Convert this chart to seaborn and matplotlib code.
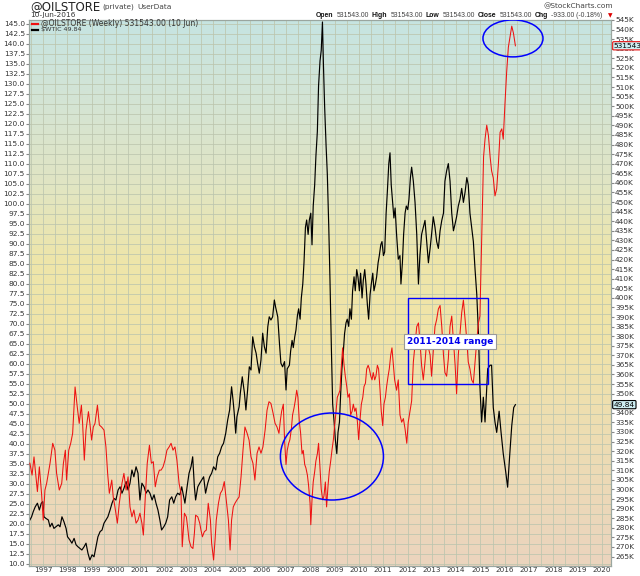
import numpy as np
import pandas as pd
import seaborn as sns
import matplotlib.pyplot as plt
from matplotlib.colors import LinearSegmentedColormap
from matplotlib.patches import Ellipse, Rectangle
from matplotlib.lines import Line2D

# $WTIC weekly close (left scale)
wti_t = [1996.46, 1996.53, 1996.60, 1996.68, 1996.77, 1996.85, 1996.93, 1996.99, 1997.04, 1997.12,
         1997.22, 1997.29, 1997.37, 1997.45, 1997.53, 1997.63, 1997.70, 1997.78, 1997.86, 1997.95,
         1998.01, 1998.11, 1998.19, 1998.28, 1998.36, 1998.44, 1998.52, 1998.60, 1998.69, 1998.77,
         1998.85, 1998.93, 1999.02, 1999.10, 1999.18, 1999.26, 1999.35, 1999.43, 1999.51, 1999.59,
         1999.67, 1999.76, 1999.84, 1999.92, 2000.00, 2000.09, 2000.17, 2000.25, 2000.33, 2000.42,
         2000.50, 2000.58, 2000.66, 2000.74, 2000.83, 2000.91, 2000.99, 2001.07, 2001.16, 2001.24,
         2001.32, 2001.40, 2001.49, 2001.57, 2001.65, 2001.73, 2001.81, 2001.88, 2001.97, 2002.05,
         2002.13, 2002.21, 2002.30, 2002.38, 2002.46, 2002.54, 2002.63, 2002.71, 2002.79, 2002.84,
         2002.93, 2003.01, 2003.09, 2003.16, 2003.23, 2003.28, 2003.37, 2003.45, 2003.53, 2003.61,
         2003.69, 2003.78, 2003.86, 2003.94, 2004.02, 2004.11, 2004.19, 2004.27, 2004.35, 2004.43,
         2004.52, 2004.60, 2004.68, 2004.76, 2004.82, 2004.87, 2004.93, 2004.98, 2005.07, 2005.12,
         2005.20, 2005.29, 2005.35, 2005.42, 2005.49, 2005.56, 2005.63, 2005.70, 2005.77, 2005.83,
         2005.90, 2005.97, 2006.04, 2006.11, 2006.18, 2006.25, 2006.31, 2006.38, 2006.45, 2006.52,
         2006.57, 2006.66, 2006.73, 2006.79, 2006.86, 2006.94, 2007.00, 2007.05, 2007.14, 2007.19,
         2007.25, 2007.30, 2007.36, 2007.41, 2007.47, 2007.52, 2007.58, 2007.63, 2007.69, 2007.74,
         2007.80, 2007.85, 2007.91, 2007.96, 2008.02, 2008.07, 2008.12, 2008.18, 2008.23, 2008.29,
         2008.34, 2008.40, 2008.45, 2008.50, 2008.54, 2008.59, 2008.65, 2008.70, 2008.76, 2008.81,
         2008.87, 2008.92, 2008.98, 2009.03, 2009.09, 2009.14, 2009.20, 2009.25, 2009.30, 2009.36,
         2009.41, 2009.47, 2009.52, 2009.58, 2009.63, 2009.69, 2009.74, 2009.80, 2009.85, 2009.91,
         2009.96, 2010.02, 2010.07, 2010.13, 2010.18, 2010.24, 2010.29, 2010.35, 2010.40, 2010.46,
         2010.51, 2010.57, 2010.62, 2010.68, 2010.73, 2010.79, 2010.84, 2010.90, 2010.95, 2011.01,
         2011.06, 2011.12, 2011.17, 2011.23, 2011.28, 2011.33, 2011.39, 2011.44, 2011.49, 2011.55,
         2011.62, 2011.69, 2011.73, 2011.79, 2011.84, 2011.90, 2011.95, 2012.01, 2012.06, 2012.12,
         2012.17, 2012.24, 2012.31, 2012.38, 2012.45, 2012.51, 2012.58, 2012.65, 2012.72, 2012.79,
         2012.86, 2012.93, 2012.99, 2013.06, 2013.13, 2013.20, 2013.27, 2013.34, 2013.41, 2013.48,
         2013.54, 2013.61, 2013.68, 2013.75, 2013.82, 2013.89, 2013.96, 2014.02, 2014.09, 2014.16,
         2014.23, 2014.30, 2014.37, 2014.44, 2014.50, 2014.57, 2014.64, 2014.71, 2014.78, 2014.85,
         2014.92, 2014.98, 2015.05, 2015.12, 2015.19, 2015.30, 2015.40, 2015.46, 2015.53, 2015.60,
         2015.67, 2015.77, 2015.85, 2015.94, 2016.04, 2016.12, 2016.20, 2016.29, 2016.37, 2016.44]
wti_v = [21.0, 21.8, 23.1, 24.3, 25.2, 23.5, 25.2, 25.6, 21.8, 21.4,
         21.0, 19.3, 20.2, 18.9, 19.3, 19.8, 19.3, 21.8, 20.6, 18.9,
         16.8, 16.0, 15.2, 16.4, 14.8, 14.3, 13.9, 13.5, 14.3, 15.2,
         12.7, 11.0, 12.3, 11.8, 14.3, 16.8, 18.1, 18.5, 20.2, 21.0,
         21.8, 23.5, 25.2, 26.4, 26.0, 28.5, 29.3, 27.7, 28.9, 30.6,
         28.5, 30.2, 33.5, 31.8, 34.3, 32.7, 26.0, 30.2, 29.3, 27.7,
         28.5, 27.7, 26.0, 27.3, 25.2, 23.5, 21.0, 18.5, 19.3, 20.2,
         21.8, 26.0, 26.8, 25.2, 26.8, 27.7, 27.3, 29.3, 26.8, 25.2,
         29.3, 32.7, 34.3, 36.8, 29.3, 26.0, 29.3, 30.2, 31.0, 31.8,
         27.7, 30.2, 31.8, 32.7, 34.3, 33.5, 36.8, 37.7, 39.3, 40.2,
         42.7, 46.0, 48.5, 54.3, 51.0, 47.7, 42.7, 46.8, 49.3, 52.7,
         56.8, 52.7, 48.5, 53.5, 59.3, 58.5, 66.8, 64.3, 62.7, 60.2,
         57.7, 61.0, 67.7, 64.3, 62.7, 69.3, 71.8, 71.0, 71.8, 76.0,
         74.3, 71.8, 65.2, 60.2, 59.3, 60.6, 53.5, 58.8, 59.7, 63.2,
         65.9, 64.1, 66.8, 68.5, 72.1, 73.8, 71.2, 76.5, 80.0, 85.3,
         94.2, 96.0, 92.4, 96.0, 97.7, 89.8, 99.5, 104.8, 111.9, 118.1,
         129.6, 135.8, 138.4, 145.5, 134.9, 124.3, 114.5, 107.5, 94.2, 80.9,
         63.2, 50.0, 45.5, 41.1, 37.6, 42.9, 45.5, 52.6, 58.8, 63.2,
         67.6, 70.3, 71.2, 69.4, 73.8, 71.2, 78.3, 81.8, 78.3, 83.6,
         81.8, 78.3, 82.7, 76.5, 80.9, 83.6, 80.0, 74.7, 71.2, 77.4,
         80.0, 82.7, 78.3, 80.0, 81.8, 85.3, 87.1, 89.8, 90.6, 87.1,
         88.0, 97.7, 103.0, 110.1, 112.8, 104.8, 100.4, 96.5, 99.0, 92.4,
         86.2, 87.1, 80.0, 85.3, 92.4, 97.7, 99.5, 98.6, 101.2, 106.6,
         109.2, 105.7, 100.4, 92.4, 80.0, 87.1, 92.4, 94.2, 95.9, 90.6,
         85.3, 88.9, 92.4, 96.8, 94.2, 90.6, 88.9, 93.3, 95.9, 97.7,
         105.7, 108.3, 110.1, 105.7, 97.7, 93.3, 95.1, 96.8, 99.5, 101.2,
         103.9, 100.4, 103.0, 106.6, 104.8, 97.7, 94.2, 90.6, 83.6, 77.4,
         67.6, 54.4, 45.5, 51.7, 45.5, 58.8, 59.7, 59.7, 49.1, 45.5,
         42.9, 48.2, 42.9, 37.6, 33.1, 29.2, 36.7, 44.6, 49.1, 49.84]

# @OILSTORE weekly (right scale, thousands)
oil_t = [1996.46, 1996.55, 1996.63, 1996.77, 1996.85, 1996.94, 1997.01, 1997.08, 1997.15, 1997.29,
         1997.40, 1997.49, 1997.56, 1997.67, 1997.77, 1997.84, 1997.92, 1997.97, 1998.06, 1998.14,
         1998.22, 1998.32, 1998.41, 1998.49, 1998.58, 1998.63, 1998.70, 1998.77, 1998.87, 1998.93,
         1999.00, 1999.07, 1999.14, 1999.24, 1999.32, 1999.41, 1999.51, 1999.59, 1999.66, 1999.73,
         1999.83, 1999.89, 1999.96, 2000.06, 2000.14, 2000.25, 2000.33, 2000.42, 2000.50, 2000.58,
         2000.66, 2000.74, 2000.83, 2000.91, 2000.99, 2001.07, 2001.13, 2001.21, 2001.29, 2001.38,
         2001.46, 2001.54, 2001.62, 2001.70, 2001.79, 2001.86, 2001.94, 2002.02, 2002.10, 2002.19,
         2002.27, 2002.35, 2002.43, 2002.51, 2002.60, 2002.68, 2002.73, 2002.82, 2002.90, 2002.95,
         2003.01, 2003.09, 2003.17, 2003.23, 2003.28, 2003.37, 2003.45, 2003.50, 2003.56, 2003.64,
         2003.72, 2003.80, 2003.89, 2003.94, 2004.02, 2004.08, 2004.13, 2004.22, 2004.30, 2004.38,
         2004.46, 2004.54, 2004.63, 2004.70, 2004.76, 2004.83, 2004.90, 2004.98, 2005.07, 2005.15,
         2005.23, 2005.31, 2005.40, 2005.48, 2005.56, 2005.64, 2005.72, 2005.81, 2005.89, 2005.97,
         2006.05, 2006.14, 2006.22, 2006.30, 2006.38, 2006.47, 2006.55, 2006.63, 2006.71, 2006.77,
         2006.82, 2006.89, 2006.94, 2007.00, 2007.05, 2007.11, 2007.16, 2007.22, 2007.27, 2007.33,
         2007.38, 2007.44, 2007.49, 2007.55, 2007.60, 2007.66, 2007.71, 2007.77, 2007.82, 2007.88,
         2007.93, 2007.99, 2008.02, 2008.07, 2008.12, 2008.18, 2008.23, 2008.29, 2008.34, 2008.40,
         2008.45, 2008.51, 2008.56, 2008.62, 2008.67, 2008.73, 2008.78, 2008.84, 2008.89, 2008.95,
         2009.00, 2009.06, 2009.11, 2009.17, 2009.22, 2009.28, 2009.33, 2009.39, 2009.44, 2009.50,
         2009.55, 2009.61, 2009.66, 2009.72, 2009.77, 2009.83, 2009.88, 2009.94, 2009.99, 2010.05,
         2010.10, 2010.16, 2010.21, 2010.27, 2010.32, 2010.38, 2010.43, 2010.49, 2010.54, 2010.59,
         2010.65, 2010.70, 2010.76, 2010.81, 2010.87, 2010.92, 2010.98, 2011.03, 2011.09, 2011.14,
         2011.20, 2011.25, 2011.31, 2011.36, 2011.42, 2011.47, 2011.55, 2011.62, 2011.69, 2011.76,
         2011.83, 2011.90, 2011.97, 2012.03, 2012.10, 2012.17, 2012.24, 2012.31, 2012.38, 2012.45,
         2012.51, 2012.58, 2012.65, 2012.72, 2012.79, 2012.86, 2012.93, 2012.99, 2013.06, 2013.13,
         2013.20, 2013.27, 2013.34, 2013.41, 2013.48, 2013.54, 2013.61, 2013.68, 2013.75, 2013.82,
         2013.89, 2013.96, 2014.02, 2014.09, 2014.16, 2014.23, 2014.30, 2014.37, 2014.44, 2014.50,
         2014.57, 2014.64, 2014.71, 2014.78, 2014.85, 2014.92, 2014.98, 2015.03, 2015.08, 2015.13,
         2015.19, 2015.26, 2015.33, 2015.40, 2015.46, 2015.53, 2015.60, 2015.67, 2015.74, 2015.81,
         2015.88, 2015.94, 2016.01, 2016.08, 2016.15, 2016.22, 2016.29, 2016.36, 2016.44]
oil_k = [313.7, 307.5, 317.0, 298.9, 311.8, 298.0, 284.0, 299.7, 303.2, 313.7,
         324.1, 320.5, 308.4, 299.7, 303.2, 313.7, 320.5, 304.9, 320.5, 324.1,
         329.3, 353.5, 343.1, 334.5, 344.0, 334.5, 315.3, 331.0, 340.6, 334.5,
         325.8, 332.6, 334.5, 344.0, 333.6, 332.6, 331.0, 322.2, 308.4, 298.0,
         304.9, 296.1, 290.9, 282.4, 292.8, 303.2, 308.4, 299.7, 306.6, 290.9,
         285.7, 289.3, 282.4, 284.0, 287.6, 282.4, 276.2, 296.1, 313.7, 323.1,
         313.7, 314.5, 301.4, 306.6, 310.1, 310.1, 311.8, 315.3, 320.5, 322.2,
         324.1, 320.5, 322.2, 315.3, 303.2, 298.0, 270.1, 287.6, 285.7, 280.5,
         273.6, 270.1, 269.2, 277.2, 286.6, 285.7, 282.4, 278.8, 275.3, 278.0,
         278.8, 292.8, 284.0, 271.9, 263.2, 273.6, 284.0, 292.8, 298.0, 299.7,
         304.1, 294.5, 284.0, 268.4, 284.0, 290.9, 292.8, 294.5, 296.1, 306.6,
         320.5, 332.6, 329.3, 325.8, 317.0, 313.7, 304.9, 318.9, 322.2, 318.9,
         322.2, 331.0, 341.4, 345.8, 344.9, 339.7, 334.5, 332.6, 329.3, 336.2,
         340.8, 344.5, 326.0, 313.0, 320.4, 324.1, 326.0, 331.5, 338.9, 342.5,
         346.2, 351.8, 348.1, 335.1, 329.6, 318.6, 320.4, 313.0, 311.2, 307.5,
         302.0, 292.8, 281.6, 294.6, 303.9, 309.3, 314.9, 318.6, 324.1, 311.2,
         300.1, 294.6, 296.5, 303.9, 290.9, 302.0, 309.3, 314.9, 320.4, 326.0,
         333.3, 340.8, 348.1, 349.9, 351.8, 364.8, 373.9, 364.8, 359.1, 353.7,
         348.1, 349.9, 338.9, 340.8, 344.5, 340.8, 342.5, 335.1, 326.0, 337.0,
         344.5, 348.1, 353.7, 355.5, 362.9, 364.8, 362.9, 359.1, 357.2, 361.0,
         357.2, 359.1, 364.8, 362.9, 351.8, 340.8, 333.3, 344.5, 348.1, 353.7,
         359.1, 362.9, 370.2, 373.9, 364.8, 357.2, 351.8, 357.2, 338.9, 335.1,
         337.0, 331.5, 324.1, 335.1, 340.8, 346.2, 366.5, 375.8, 385.0, 386.9,
         377.7, 364.8, 357.2, 366.5, 377.7, 373.9, 370.2, 359.1, 372.1, 385.0,
         388.7, 394.2, 396.0, 385.0, 370.2, 361.0, 359.1, 368.3, 385.0, 390.5,
         377.7, 364.8, 349.9, 370.2, 381.2, 392.3, 398.8, 388.7, 377.7, 366.5,
         362.9, 357.2, 355.5, 366.5, 377.7, 386.9, 390.5, 418.1, 445.9, 473.6,
         482.8, 490.1, 484.7, 473.6, 466.3, 462.6, 453.2, 456.9, 469.9, 486.4,
         488.2, 482.8, 501.2, 517.8, 530.8, 536.3, 541.8, 538.1, 531.543]

years = list(range(1997, 2021))
left_ticks = np.arange(10, 145.01, 2.5)
right_ticks = np.arange(265, 545.01, 5)
header_pieces = [('Open', True), ('531543.00', False), ('High', True), ('531543.00', False),
                 ('Low', True), ('531543.00', False), ('Close', True), ('531543.00', False),
                 ('Chg', True), ('-933.00 (-0.18%)', False)]

wti = pd.DataFrame({'t': wti_t, 'v': wti_v})
oil = pd.DataFrame({'t': oil_t, 'k': oil_k})

W, H = 640, 576
plt.rcParams['font.family'] = ['DejaVu Sans']
fig = plt.figure(figsize=(6.4, 5.76), dpi=100)
ax = fig.add_axes([29 / W, 10 / H, 582 / W, 546 / H])

# background gradient (bottom -> top)
bg = LinearSegmentedColormap.from_list('bg', [
    (0.0, '#ebd4be'), (0.21, '#eddcb4'), (0.43, '#f0e4a8'), (0.56, '#eee6aa'),
    (0.70, '#e1e5c3'), (0.85, '#d4e4d4'), (1.0, '#c6e4e2')])
ax.imshow(np.linspace(0, 1, 256).reshape(-1, 1), aspect='auto', cmap=bg,
          extent=[0, 1, 0, 1], transform=ax.transAxes, origin='lower', zorder=0)

sns.lineplot(data=wti, x='t', y='v', ax=ax, color='black', lw=0.85,
             estimator=None, sort=False, zorder=3)
ax.set_xlim(1996.424, 2020.374)
ax.set_ylim(9.5, 146)

ax2 = ax.twinx()
ax2.patch.set_visible(False)
sns.lineplot(data=oil, x='t', y='k', ax=ax2, color='#ee1111', lw=0.75,
             estimator=None, sort=False, zorder=3)
ax2.set_ylim(260.06, 544.74)
ax2.set_xlim(1996.424, 2020.374)

# grid
ax.set_xticks(years)
ax.set_xticks(np.arange(1996.5, 2020.4, 0.5), minor=True)
ax.set_yticks(left_ticks)
ax.grid(which='both', color='#bcc5ae', lw=0.55)
for l in ax.get_xgridlines() + ax.get_ygridlines():
    l.set_zorder(1)

ax.set_xticklabels([str(y) for y in years])
ax.set_yticklabels(['%.1f' % v for v in left_ticks])
ax2.set_yticks(right_ticks)
ax2.set_yticklabels(['%dK' % v for v in right_ticks])
ax.set_xlabel('')
ax.set_ylabel('')
ax2.set_ylabel('')

ax.tick_params(axis='y', labelsize=5.3, length=2, pad=1, color='#888888', labelcolor='#333333')
ax.tick_params(axis='x', which='both', labelsize=5.2, length=0, pad=1, labelcolor='#333333')
ax2.tick_params(axis='y', labelsize=5.3, length=2, pad=1, color='#888888', labelcolor='#333333')
for a in (ax, ax2):
    for s in a.spines.values():
        s.set_color('#9aa6a0')
        s.set_linewidth(0.8)

# annotations on the OILSTORE scale
ax2.add_patch(Ellipse((2016.34, 535.4), 2.47, 19.3, fill=False, ec='#0000ff', lw=1.1, zorder=5))
ax2.add_patch(Ellipse((2008.89, 317.2), 4.24, 45.4, fill=False, ec='#0000ff', lw=1.1, zorder=5))
ax2.add_patch(Rectangle((2012.02, 355), 3.29, 45, fill=False, ec='#0000ff', lw=1.0, zorder=5))
ax2.text(2013.75, 377.1, '2011-2014 range', color='#0000ee', fontsize=6.5, fontweight='bold',
         ha='center', va='center', zorder=6,
         bbox=dict(boxstyle='square,pad=0.35', fc='white', ec='#999999', lw=0.8))

# last value flags on the right axis, drawn over the tick labels
ax2.annotate('531543.0', xy=(1.0, 531.543), xycoords=('axes fraction', 'data'),
             xytext=(2, 0), textcoords='offset points', fontsize=5.3, va='center', ha='left',
             annotation_clip=False, zorder=20,
             bbox=dict(boxstyle='round,pad=0.15', fc='#cdeef2', ec='#ee1111', lw=0.8))
ax2.annotate('49.84', xy=(1.0, 49.84), xycoords=('axes fraction', ax.transData),
             xytext=(2, 0), textcoords='offset points', fontsize=5.3, va='center', ha='left',
             annotation_clip=False, zorder=20,
             bbox=dict(boxstyle='round,pad=0.15', fc='#cdeef2', ec='black', lw=0.8))

# header
def fx(px):
    return px / W

def fy(py):
    return 1 - py / H

fig.text(fx(30), fy(7), '@OILSTORE', fontsize=8.5, color='#222222', va='center')
fig.text(fx(102), fy(7), '(private)', fontsize=5.3, color='#444444', va='center')
fig.text(fx(137), fy(7), 'UserData', fontsize=5.3, color='#444444', va='center')
fig.text(fx(613), fy(6), '@StockCharts.com', fontsize=5.3, color='#444444', va='center', ha='right')
fig.text(fx(30), fy(15.5), '10-Jun-2016', fontsize=5.3, color='#333333', va='center')

# Open/High/Low/Close line: lay pieces out one after another, sized to fit 316..604 px
renderer = fig.canvas.get_renderer()
hdr_font = ['Liberation Sans', 'DejaVu Sans']
base = 5.5
widths = []
for s, b in header_pieces:
    t = fig.text(0, 0, s, fontsize=base, family=hdr_font, fontweight='bold' if b else 'normal')
    widths.append(t.get_window_extent(renderer).width)
    t.remove()
gap = 3
scale = (604 - 316 - gap * (len(header_pieces) - 1)) / sum(widths)
size = min(base * scale, 5.8)
xpos = 316
for s, b in header_pieces:
    t = fig.text(fx(xpos), fy(15.5), s, fontsize=size, family=hdr_font,
                 color='#111111' if b else '#444444',
                 fontweight='bold' if b else 'normal', va='center')
    xpos += t.get_window_extent(renderer).width + gap
fig.text(fx(608), fy(15.5), '\u25bc', fontsize=4.2, color='#dd0000', va='center')

# legend inside the chart
fig.add_artist(Line2D([fx(32), fx(38)], [fy(24), fy(24)], color='#ee1111', lw=1.6))
fig.text(fx(41), fy(24), '@OILSTORE (Weekly) 531543.00 (10 Jun)', fontsize=5.5,
         color='#333333', va='center')
fig.add_artist(Line2D([fx(32), fx(38)], [fy(30), fy(30)], color='black', lw=1.6))
fig.text(fx(41), fy(30), '$WTIC 49.84', fontsize=4.6, color='#333333', va='center')

fig.savefig('out.png', dpi=100)
